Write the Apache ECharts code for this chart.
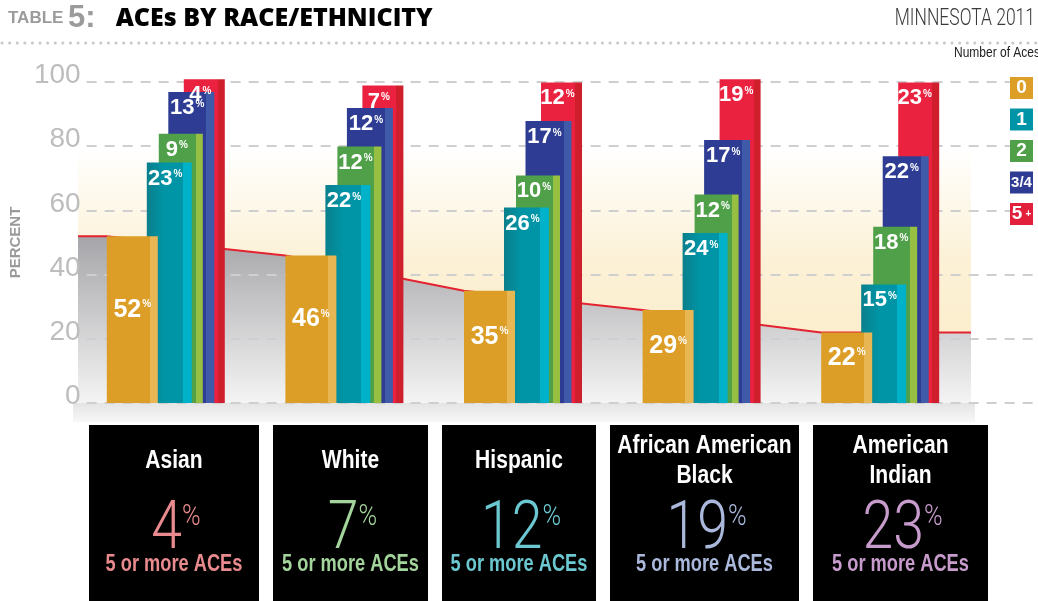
<!DOCTYPE html>
<html><head><meta charset="utf-8">
<script src="https://cdn.jsdelivr.net/npm/echarts@6/dist/echarts.min.js"></script>
<style>html,body{margin:0;padding:0;background:#fff}#c{width:1038px;height:601px}</style>
</head><body><div id="c"></div>
<script>
// ---------- data ----------
const categories = ['Asian', 'White', 'Hispanic', 'African American\nBlack', 'American\nIndian'];
const aceGroups = ['0', '1', '2', '3/4', '5+'];
const aces0 = [52, 46, 35, 29, 22];
const aces1 = [23, 22, 26, 24, 15];
const aces2 = [9, 12, 10, 12, 18];
const aces34 = [13, 12, 17, 17, 22];
const aces5 = [4, 7, 12, 19, 23];
const yTicks = [0, 20, 40, 60, 80, 100];
const fivePlusText = '5 or more ACEs';

// ---------- style ----------
const FN = '"Liberation Sans","Roboto",sans-serif';
const FL = '"Roboto","Liberation Sans",sans-serif';
const FH = '"Open Sans","Lato","Liberation Sans",sans-serif';
const seriesVals = [aces0, aces1, aces2, aces34, aces5];
const cum = seriesVals.map((arr, s) => arr.map((v, i) => seriesVals.slice(0, s + 1).reduce((a, b) => a + b[i], 0)));
const barStyle = [
  ['#dc9e26', '#dc9e26', '#e9b654', 0.84],
  ['#0a7f8c', '#0095a6', '#00b1ca', 0.80],
  ['#4fa048', '#4fa048', '#97c043', 0.84],
  ['#2e3d93', '#2e3d93', '#3f5aa8', 0.83],
  ['#ea2240', '#ea2240', '#cf1f2d', 0.83]
];
const legendColors = ['#dc9e26', '#0095a6', '#4fa048', '#2e3d93', '#e3203b'];
const barOffsets = [-35, 2, 13.5, 24, 37];
const barWidths = [51, 45, 44, 46, 41];
const boxColors = ['#e88a8e', '#a3d49b', '#6bc8d1', '#aab8dc', '#c79bcb'];
const boxL = [89, 273, 442, 610, 813];
const boxR = [259, 428, 596, 799, 988];

function grad(s) {
  const c = barStyle[s];
  return {type: 'linear', x: 0, y: 0, x2: 1, y2: 0, colorStops: [
    {offset: 0, color: c[0]}, {offset: c[3] * 0.5, color: c[1]}, {offset: c[3], color: c[1]},
    {offset: c[3], color: c[2]}, {offset: 1, color: c[2]}]};
}
function barLabel(s, arr) {
  return {
    show: true, position: s === 0 ? 'inside' : 'insideTop', distance: 5,
    offset: s === 0 ? [0, -10] : [-4, 0],
    formatter: p => `{v|${arr[p.dataIndex]}}{p|%}`,
    rich: {
      v: {color: '#fff', fontSize: s === 0 ? 25 : 22, fontWeight: 'bold', fontFamily: FN},
      p: {color: '#fff', fontSize: 10, fontWeight: 'bold', fontFamily: FN, verticalAlign: 'top', padding: [2, 0, 0, 1]}
    }
  };
}

const grids = [{left: 73, right: 4, top: 82, bottom: 198}];
const xAxes = [{gridIndex: 0, type: 'value', show: false, min: 0, max: 1}];
const yAxes = [{
  gridIndex: 0, type: 'value', min: 0, max: 100, interval: 20, z: 4,
  name: 'PERCENT', nameLocation: 'middle', nameGap: 56, nameRotate: 90,
  nameTextStyle: {color: '#9a9a9a', fontSize: 15, fontWeight: 'bold', fontFamily: FN},
  axisLine: {show: false}, axisTick: {show: false},
  axisLabel: {color: '#bdbdbd', fontSize: 28, fontFamily: FN, margin: 6, verticalAlign: 'bottom', lineHeight: 13,
    formatter: v => yTicks.indexOf(v) >= 0 ? String(v) : ''},
  splitLine: {lineStyle: {color: '#cfcfcf', width: 2, type: [10, 8]}}
}];
const series = [];

barOffsets.forEach((o, s) => {
  grids.push({left: 78 + o, width: 893, top: 76, bottom: 198});
  xAxes.push({gridIndex: s + 1, type: 'category', data: categories, show: false});
  yAxes.push({gridIndex: s + 1, type: 'value', min: 0, max: 102, show: false, splitLine: {show: false}});
  const arr = seriesVals[s];
  series.push({
    type: 'bar', name: aceGroups[s], xAxisIndex: s + 1, yAxisIndex: s + 1,
    barWidth: barWidths[s], z: 10 - s, data: cum[s], clip: false,
    itemStyle: {color: grad(s)},
    label: s === 4 ? {show: false} : barLabel(s, arr)
  });
});

// background line grid (index 6)
grids.push({left: 78, width: 893, top: 76, bottom: 198});
xAxes.push({gridIndex: 6, type: 'value', min: 0, max: 5, show: false});
yAxes.push({gridIndex: 6, type: 'value', min: 0, max: 102, show: false, splitLine: {show: false}});
const lineData = [[0, aces0[0]]].concat(aces0.map((v, i) => [i + 0.16, v]), [[5, aces0[aces0.length - 1]]]);
series.push({
  type: 'line', xAxisIndex: 6, yAxisIndex: 6, data: lineData, symbol: 'none', z: 2, silent: true,
  lineStyle: {color: '#e3232f', width: 2},
  areaStyle: {origin: 'start', opacity: 1, color: {type: 'linear', x: 0, y: 0, x2: 0, y2: 1, colorStops: [
    {offset: 0, color: '#a6a6aa'}, {offset: 1, color: '#f4f4f4'}]}},
  markArea: {silent: true, itemStyle: {color: {type: 'linear', x: 0, y: 0, x2: 0, y2: 1, colorStops: [
    {offset: 0, color: '#ffffff'}, {offset: 0.45, color: '#fcf1d6'}, {offset: 1, color: '#fbebc6'}]}},
    data: [[{yAxis: 80}, {yAxis: 0}]]}
});

// label overlay for the 5+ bars (index 7), same geometry as the red bars, drawn above all bars
grids.push({left: 78 + barOffsets[4], width: 893, top: 76, bottom: 198});
xAxes.push({gridIndex: 7, type: 'category', data: categories, show: false});
yAxes.push({gridIndex: 7, type: 'value', min: 0, max: 102, show: false, splitLine: {show: false}});
series.push({
  type: 'bar', xAxisIndex: 7, yAxisIndex: 7, barWidth: barWidths[4], z: 20, silent: true, data: cum[4],
  itemStyle: {color: 'rgba(0,0,0,0)'}, label: barLabel(4, aces5)
});

// legend rich
const legendRich = {};
aceGroups.forEach((g, i) => {
  legendRich['k' + i] = {width: i === 4 ? 14 : 23, align: i === 4 ? 'right' : 'center', height: 22, lineHeight: 22,
    backgroundColor: legendColors[i], color: '#fff', fontSize: i === 3 ? 15 : 19, fontWeight: 'bold', fontFamily: FN};
});
legendRich.s4 = {width: 9, height: 22, lineHeight: 18, align: 'left', backgroundColor: legendColors[4],
  color: '#fff', fontSize: 10, fontWeight: 'bold', fontFamily: FN, verticalAlign: 'top'};

// graphics: header, floor, boxes
const graphics = [
  {type: 'line', z: 1, shape: {x1: 2, y1: 43, x2: 1036, y2: 43},
    style: {stroke: '#c9c9c9', lineWidth: 3, lineDash: [0.1, 7.5], lineCap: 'round'}},
  {type: 'rect', z: 1, shape: {x: 73, y: 403, width: 902, height: 19},
    style: {fill: {type: 'linear', x: 0, y: 0, x2: 0, y2: 1, colorStops: [{offset: 0, color: '#e4e4e4'}, {offset: 1, color: '#f8f8f8'}]}}},
  {type: 'text', z: 6, x: 1035, y: 19, scaleX: 0.76,
    style: {text: 'MINNESOTA 2011', align: 'right', verticalAlign: 'middle', fill: '#3a3a3a', fontSize: 23, fontWeight: 300, fontFamily: FL}},
  {type: 'text', z: 6, x: 1040, y: 53, scaleX: 0.8,
    style: {text: 'Number of Aces', align: 'right', verticalAlign: 'middle', fill: '#222', fontSize: 15, fontFamily: FN}}
];
categories.forEach((c, i) => {
  const cx = (boxL[i] + boxR[i]) / 2;
  graphics.push({type: 'rect', z: 5, shape: {x: boxL[i], y: 425, width: boxR[i] - boxL[i], height: 176}, style: {fill: '#000'}});
  graphics.push({type: 'text', z: 6, x: cx, y: 461, scaleX: 0.81, style: {text: c, align: 'center', verticalAlign: 'middle',
    fill: '#fff', fontSize: 26, fontWeight: 'bold', fontFamily: FN, lineHeight: 30}});
  graphics.push({type: 'text', z: 6, x: cx + 2, y: 531, scaleX: 0.84, style: {text: `{n|${aces5[i]}}{p|%}`, align: 'center', verticalAlign: 'middle',
    rich: {n: {fontSize: 66, fontWeight: 300, fontFamily: FL, fill: boxColors[i], lineHeight: 60},
      p: {fontSize: 30, fontWeight: 300, fontFamily: FL, fill: boxColors[i], lineHeight: 30, verticalAlign: 'top', padding: [1, 0, 0, 0]}}}});
  graphics.push({type: 'text', z: 6, x: cx, y: 564, scaleX: 0.76, style: {text: fivePlusText, align: 'center', verticalAlign: 'middle',
    fill: boxColors[i], fontSize: 24, fontWeight: 'bold', fontFamily: FN}});
});

const chart = echarts.init(document.getElementById('c'), null, {renderer: 'canvas'});
chart.setOption({
  backgroundColor: '#fff',
  animation: false,
  title: [
    {left: 8, top: 3, padding: 0, text: '{a|TABLE }{b|5:}{c|ACEs BY RACE/ETHNICITY}',
      textStyle: {rich: {
        a: {color: '#9b9b9b', fontSize: 17, fontWeight: 'bold', fontFamily: FN},
        b: {color: '#9b9b9b', fontSize: 31, fontWeight: 'bold', fontFamily: FN},
        c: {color: '#000', fontSize: 25, fontWeight: 900, fontFamily: FH, padding: [0, 0, 0, 20]}}}}
  ],
  legend: {orient: 'vertical', right: 5, top: 77, padding: 0, itemGap: 9.5, itemWidth: 0, itemHeight: 0, icon: 'rect',
    selectedMode: false, data: aceGroups,
    formatter: name => { const i = aceGroups.indexOf(name); return i === 4 ? '{k4|5}{s4|+}' : `{k${i}|${name}}`; },
    textStyle: {rich: legendRich}},
  tooltip: {show: false},
  grid: grids, xAxis: xAxes, yAxis: yAxes, series: series, graphic: graphics
});
</script></body></html>
